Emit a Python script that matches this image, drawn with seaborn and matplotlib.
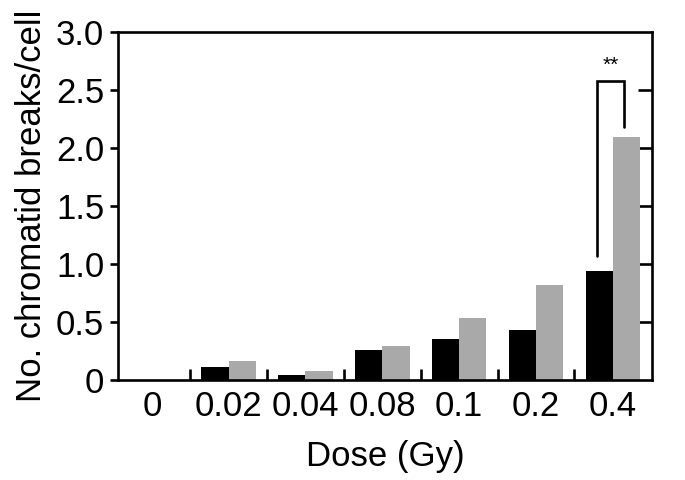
import numpy as np
import pandas as pd
import seaborn as sns
import matplotlib.pyplot as plt

# values
doses = ["0", "0.02", "0.04", "0.08", "0.1", "0.2", "0.4"]
group_a = [0.0, 0.115, 0.047, 0.26, 0.355, 0.435, 0.945]   # black bars
group_b = [0.0, 0.168, 0.085, 0.295, 0.535, 0.825, 2.10]   # grey bars
groups = ["A", "B"]

df = pd.DataFrame({
    "dose": doses * 2,
    "group": [groups[0]] * len(doses) + [groups[1]] * len(doses),
    "breaks": group_a + group_b,
})

sns.set_style("ticks")
plt.rcParams['font.family'] = ['Liberation Sans', 'DejaVu Sans']
for k in ["text.color", "axes.labelcolor", "xtick.color", "ytick.color", "axes.edgecolor"]:
    plt.rcParams[k] = "black"

fig = plt.figure(figsize=(6.85, 4.8), dpi=100)
ax = fig.add_axes([0.1723, 0.2073, 0.7795, 0.726])

sns.barplot(data=df, x="dose", y="breaks", hue="group", order=doses,
            palette={"A": "black", "B": "#a9a9a9"}, width=0.71, gap=0,
            saturation=1, edgecolor="none", legend=False, ax=ax)

ax.set_xlim(-0.44, 6.51)
ax.set_ylim(0, 3.0)
ax.set_yticks([0, 0.5, 1.0, 1.5, 2.0, 2.5, 3.0])
ax.set_yticklabels(["0", "0.5", "1.0", "1.5", "2.0", "2.5", "3.0"])

for s in ax.spines.values():
    s.set_visible(True)
    s.set_linewidth(1.9)
    s.set_color("black")

ax.tick_params(axis="y", which="major", direction="out", length=6, width=1.9,
               labelsize=25, left=True, right=False, pad=4)
ax.tick_params(axis="x", which="major", length=0, labelsize=25, pad=7)
# inner ticks on the right spine
ax2 = ax.secondary_yaxis("right")
ax2.set_yticks([0.5, 1.0, 1.5, 2.0, 2.5])
ax2.tick_params(direction="in", length=10, width=1.9, labelright=False)
ax2.spines["right"].set_visible(False)
# boundary ticks between dose categories
ax.set_xticks(np.arange(0.5, 6, 1.0), minor=True)
ax.tick_params(axis="x", which="minor", direction="in", length=8, width=1.9)

ax.set_xlabel("Dose (Gy)", fontsize=25, labelpad=12)
ax.set_ylabel("No. chromatid breaks/cell", fontsize=25, labelpad=6)

# significance bracket for 0.4 Gy
xl, xr = 5.79, 6.15
y_top = 2.58
ax.plot([xl, xl, xr, xr], [group_a[-1] + 0.13, y_top, y_top, group_b[-1] + 0.08],
        color="black", lw=1.9, solid_joinstyle="miter")
ax.text((xl + xr) / 2, y_top + 0.05, "**", ha="center", va="bottom", fontsize=15)

fig.savefig("out.png", dpi=100)
